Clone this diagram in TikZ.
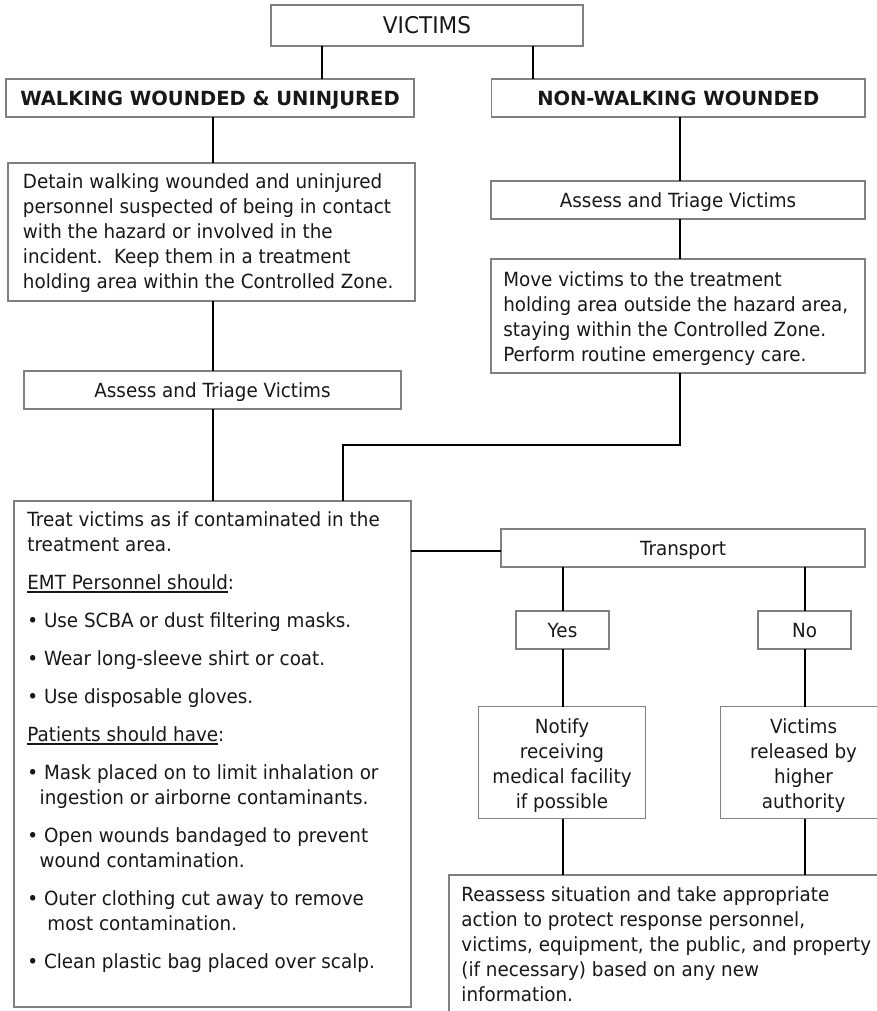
\documentclass[tikz,border=0pt]{standalone}
\usepackage{fontspec}
\setmainfont{DejaVu Sans}[FakeStretch=0.94]
\newfontfamily\headfont{DejaVu Sans}
\definecolor{boxgray}{RGB}{128,128,128}
\definecolor{ink}{RGB}{24,24,24}
\newcommand{\myul}[1]{\setbox0=\hbox{#1}\rlap{\rule[-2.8pt]{\wd0}{1.4pt}}\box0}
\tikzset{
  box/.style={draw=boxgray, line width=1.5pt, inner sep=0pt, outer sep=0pt, text=ink},
  body/.style={font=\fontsize{19.5}{25}\selectfont},
  oneline/.style={box, body, text height=14.2pt, text depth=0pt},
  head/.style={box, font=\headfont\bfseries\fontsize{19.5}{25}\selectfont, text height=14.2pt, text depth=0pt},
  txt/.style={inner sep=0pt, outer sep=0pt, align=left, text=ink, body},
  link/.style={draw=black, line width=2pt},
}
\begin{document}
\begin{tikzpicture}[x=1pt,y=-1pt]
\useasboundingbox (0,0) rectangle (877,1011);
\clip (0,0) rectangle (877,1011);

% column coordinates
\coordinate (xa) at (322,0);
\coordinate (xb) at (533,0);
\coordinate (xl) at (213,0);
\coordinate (xr) at (679.5,0);
\coordinate (xe) at (343,0);
\coordinate (xyes) at (563,0);
\coordinate (xno) at (805,0);
\coordinate (ymid) at (0,445);
\coordinate (ytr) at (0,551);

% boxes
\node[oneline, minimum width=312pt, minimum height=41pt, font=\fontsize{23}{28}\selectfont, text height=16.8pt] (victims) at (427,25.5) {VICTIMS};
\node[head, minimum width=408pt, minimum height=38pt] (ww) at (210,98) {WALKING WOUNDED \& UNINJURED};
\node[head, minimum width=373.5pt, minimum height=38pt] (nw) at (678.25,98) {NON-WALKING WOUNDED};

\node[box, minimum width=407pt, minimum height=138pt] (detain) at (211.5,232) {};
\node[txt, anchor=north west] (detaintext) at ([xshift=15pt,yshift=-7.8pt]detain.north west)
  {\strut Detain walking wounded and uninjured\\
   personnel suspected of being in contact\\
   with the hazard or involved in the\\
   incident.\ \ Keep them in a treatment\\
   holding area within the Controlled Zone.};

\node[oneline, minimum width=374pt, minimum height=38pt] (ar) at (678,200) {Assess and Triage Victims};

\node[box, minimum width=374pt, minimum height=114pt] (move) at (678,316) {};
\node[txt, anchor=north west] (movetext) at ([xshift=12.3pt,yshift=-9.5pt]move.north west)
  {\strut Move victims to the treatment\\
   holding area outside the hazard area,\\
   staying within the Controlled Zone.\\
   Perform routine emergency care.};

\node[oneline, minimum width=377pt, minimum height=38pt] (al) at (212.5,390) {Assess and Triage Victims};

\node[box, minimum width=397pt, minimum height=506pt] (treat) at (212.5,754) {};
\node[txt, anchor=north west] (treattext) at ([xshift=13.4pt,yshift=-8.2pt]treat.north west)
  {\strut Treat victims as if contaminated in the\\
   treatment area.\\[13pt]
   \myul{EMT Personnel should}:\\[13pt]
   • Use SCBA or dust filtering masks.\\[13pt]
   • Wear long-sleeve shirt or coat.\\[13pt]
   • Use disposable gloves.\\[13pt]
   \myul{Patients should have}:\\[13pt]
   • Mask placed on to limit inhalation or\\
   \hspace*{12.3pt}ingestion or airborne contaminants.\\[13pt]
   • Open wounds bandaged to prevent\\
   \hspace*{12.3pt}wound contamination.\\[13pt]
   • Outer clothing cut away to remove\\
   \hspace*{20pt}most contamination.\\[13pt]
   • Clean plastic bag placed over scalp.};

\node[oneline, minimum width=364pt, minimum height=38pt] (transport) at (683,548) {Transport};
\node[oneline, minimum width=93pt, minimum height=38pt] (yes) at (562.5,630) {Yes};
\node[oneline, minimum width=93pt, minimum height=38pt] (no) at (804.5,630) {No};

\node[box, minimum width=167pt, minimum height=112pt] (notify) at (562,762.5) {};
\node[txt, align=center, anchor=north] (notifytext) at ([yshift=-9.1pt]notify.north)
  {\strut Notify\\receiving\\medical facility\\if possible};
\node[box, minimum width=166pt, minimum height=112pt] (released) at (803.6,762.5) {};
\node[txt, align=center, anchor=north] (releasedtext) at ([yshift=-9.1pt]released.north)
  {\strut Victims\\released by\\higher\\authority};

\node[box, minimum width=451pt, minimum height=155pt] (reassess) at (674.5,952.5) {};
\node[txt, anchor=north west] (reassesstext) at ([xshift=12.4pt,yshift=-9.2pt]reassess.north west)
  {\strut Reassess situation and take appropriate\\
   action to protect response personnel,\\
   victims, equipment, the public, and property\\
   (if necessary) based on any new\\
   information.};

% connectors
\draw[link] (victims.south -| xa) -- (ww.north -| xa);
\draw[link] (victims.south -| xb) -- (nw.north -| xb);
\draw[link] (ww.south -| xl) -- (detain.north -| xl);
\draw[link] (detain.south -| xl) -- (al.north -| xl);
\draw[link] (al.south -| xl) -- (treat.north -| xl);
\draw[link] (nw.south -| xr) -- (ar.north -| xr);
\draw[link] (ar.south -| xr) -- (move.north -| xr);
\draw[link] (move.south -| xr) -- (xr |- ymid) -- (xe |- ymid) -- (treat.north -| xe);
\draw[link] (treat.east |- ytr) -- (transport.west |- ytr);
\draw[link] (transport.south -| xyes) -- (yes.north -| xyes);
\draw[link] (transport.south -| xno) -- (no.north -| xno);
\draw[link] (yes.south -| xyes) -- (notify.north -| xyes);
\draw[link] (no.south -| xno) -- (released.north -| xno);
\draw[link] (notify.south -| xyes) -- (reassess.north -| xyes);
\draw[link] (released.south -| xno) -- (reassess.north -| xno);
\end{tikzpicture}
\end{document}
